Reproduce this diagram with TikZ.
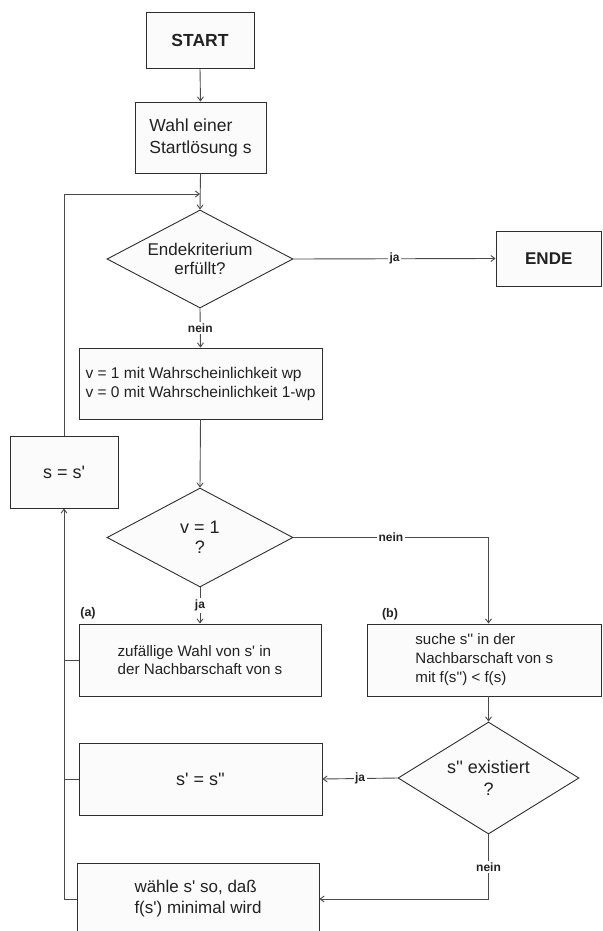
\documentclass[tikz,border=0pt]{standalone}
\usepackage{fontspec}
\setmainfont{Liberation Sans}[Ligatures=TeXOff]
\usetikzlibrary{shapes.geometric,arrows.meta}
\definecolor{linec}{HTML}{2E2E2E}
\definecolor{connc}{HTML}{4A4A4A}
\definecolor{boxfill}{HTML}{FBFBFB}
\definecolor{textc}{HTML}{222222}
\newcommand\fsz[2]{\fontsize{#1pt}{#2pt}\selectfont}
\begin{document}
\begin{tikzpicture}[x=1pt,y=-1pt,
  box/.style={draw=linec, fill=boxfill, line width=0.9pt, rectangle, inner sep=0pt, align=left, text=textc},
  dia/.style={draw=linec, fill=boxfill, line width=0.9pt, diamond, inner sep=0pt, align=center, text=textc},
  conn/.style={draw=connc, line width=0.9pt},
  arr/.style={conn, -{Straight Barb[length=4pt,width=6pt]}},
  lab/.style={fill=white, inner sep=1.5pt, font=\bfseries\fsz{12}{14}, text=textc},
  tag/.style={inner sep=0pt, font=\bfseries\fsz{12.5}{14}, text=textc},
]
\useasboundingbox (0,0) rectangle (602,931);
\fill[white] (0,0) rectangle (602,931);

% boxes
\node[box, minimum width=108pt, minimum height=56pt, font=\bfseries\fsz{17.5}{21}] (start) at (200,40) {START};
\node[box, minimum width=131pt, minimum height=71pt, font=\fsz{17.5}{22}] (wahl) at (200.5,137.5) {Wahl einer\\Startlösung s};
\node[dia, aspect=1.88, minimum width=186pt, minimum height=98pt, font=\fsz{17}{19}] (d1) at (200,259) {Endekriterium\\erfüllt?};
\node[box, minimum width=105.5pt, minimum height=55pt, font=\bfseries\fsz{17}{20}] (ende) at (548.75,258.5) {ENDE};
\node[box, minimum width=243pt, minimum height=71pt, font=\fsz{15.5}{19}] (vbox) at (200.5,383.5) {v = 1 mit Wahrscheinlichkeit wp\\v = 0 mit Wahrscheinlichkeit 1-wp};
\node[box, minimum width=108pt, minimum height=72pt, font=\fsz{18}{21}] (sss) at (64,472) {s = s'};
\node[dia, aspect=1.88, minimum width=186pt, minimum height=99pt, font=\fsz{18}{20}] (d2) at (200,537.5) {v = 1\\?};
\node[box, minimum width=242pt, minimum height=72pt, font=\fsz{15.2}{18.5}] (abox) at (200,660) {zufällige Wahl von s' in\\der Nachbarschaft von s};
\node[box, minimum width=234.5pt, minimum height=72pt, font=\fsz{15.1}{19}] (bbox) at (484.25,660) {suche s'' in der\\Nachbarschaft von s\\mit f(s'') < f(s)};
\node[dia, aspect=1.62, minimum width=181pt, minimum height=112pt, font=\fsz{18}{22}] (d3) at (488.5,778) {s'' existiert\\?};
\node[box, minimum width=243pt, minimum height=72pt, font=\fsz{18}{21}] (s2box) at (200.5,779) {s' = s''};
\node[box, minimum width=242pt, minimum height=72pt, font=\fsz{17}{21}] (wbox) at (198,899) {wähle s' so, daß\\f(s') minimal wird};

% tags
\node[tag] (taga) at (88,613) {(a)};
\node[tag] (tagb) at (390,614) {(b)};

% connectors
\coordinate (fb) at (200,194);
\draw[arr] (start.south) -- (wahl.north);
\draw[arr] (wahl.south) -- (d1.north);
\draw[arr] (sss.north) |- (fb);
\draw[arr] (d1.east) -- node[lab] {ja} (ende.west);
\draw[arr] (d1.south) -- node[lab] {nein} (vbox.north);
\draw[arr] (vbox.south) -- (d2.north);
\draw[arr] (d2.south) -- node[lab] {ja} (abox.north);
\draw[arr] (d2.east) -| node[lab, pos=0.25] {nein} (bbox.north -| d3.north);
\draw[arr] (d3.north |- bbox.south) -- (d3.north);
\draw[arr] (d3.west) -- node[lab] {ja} (s2box.east);
\draw[arr] (d3.south) |- node[lab, pos=0.25] {nein} (wbox.east);
\draw[arr] (wbox.west) -| (sss.south);
\draw[conn] (abox.west) -- (abox.west -| sss.south);
\draw[conn] (s2box.west) -- (s2box.west -| sss.south);
\end{tikzpicture}
\end{document}
